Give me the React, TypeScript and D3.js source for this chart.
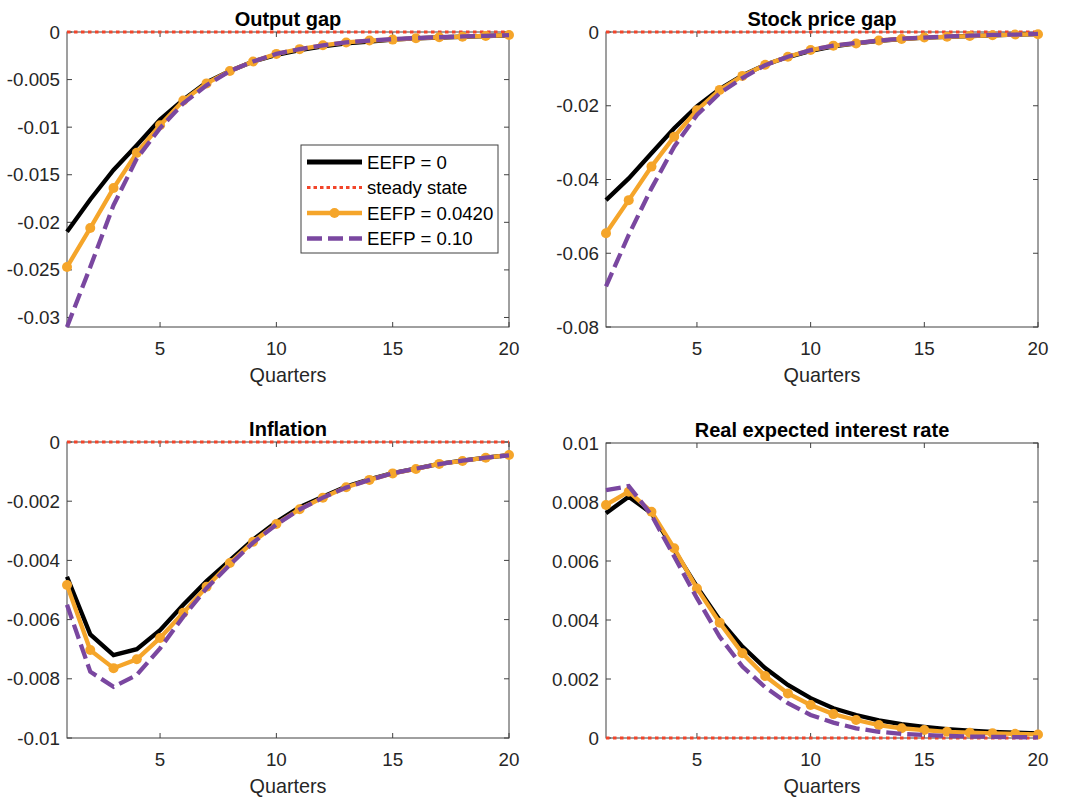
import { useEffect, useRef } from 'react';
import * as d3 from 'd3';

const quarters = [1, 2, 3, 4, 5, 6, 7, 8, 9, 10, 11, 12, 13, 14, 15, 16, 17, 18, 19, 20];
const xTicks = [5, 10, 15, 20];

const seriesNames = ['EEFP = 0', 'steady state', 'EEFP = 0.0420', 'EEFP = 0.10'];

// Output gap
const outputGap0 = [-0.021, -0.0176, -0.0145, -0.0119, -0.0092, -0.0071, -0.0053, -0.0041, -0.0031, -0.0024, -0.0019, -0.0015, -0.0012, -0.001, -0.0008, -0.00068, -0.00058, -0.0005, -0.00042, -0.00035];
const outputGap042 = [-0.0247, -0.0206, -0.0164, -0.0127, -0.0098, -0.0072, -0.0054, -0.0041, -0.0031, -0.0023, -0.0018, -0.0014, -0.0011, -0.0009, -0.0008, -0.00066, -0.00056, -0.00049, -0.00042, -0.00032];
const outputGap10 = [-0.031, -0.0247, -0.0182, -0.0133, -0.0101, -0.0075, -0.0056, -0.0041, -0.0031, -0.0023, -0.0018, -0.0014, -0.0011, -0.0009, -0.00075, -0.00064, -0.00055, -0.00047, -0.0004, -0.00033];

// Stock price gap
const stockGap0 = [-0.0456, -0.0397, -0.0329, -0.0261, -0.0202, -0.0155, -0.0118, -0.0089, -0.0068, -0.0051, -0.0039, -0.0031, -0.0024, -0.0019, -0.0015, -0.0013, -0.0011, -0.0009, -0.0007, -0.0006];
const stockGap042 = [-0.0546, -0.0456, -0.0365, -0.0284, -0.0212, -0.0157, -0.0119, -0.0089, -0.0067, -0.0049, -0.0037, -0.0031, -0.0023, -0.0019, -0.0015, -0.0013, -0.0011, -0.0009, -0.0007, -0.0006];
const stockGap10 = [-0.069, -0.055, -0.0424, -0.0311, -0.0225, -0.0166, -0.0125, -0.009, -0.0067, -0.0049, -0.0037, -0.003, -0.0023, -0.0018, -0.0015, -0.0012, -0.001, -0.0008, -0.0007, -0.0005];

// Inflation
const inflation0 = [-0.00455, -0.0065, -0.0072, -0.007, -0.00636, -0.0055, -0.0047, -0.004, -0.0033, -0.0027, -0.0022, -0.00185, -0.0015, -0.00126, -0.00105, -0.0009, -0.00074, -0.00063, -0.00053, -0.00044];
const inflation042 = [-0.00483, -0.00703, -0.00764, -0.00734, -0.00662, -0.00577, -0.00489, -0.00409, -0.00337, -0.00277, -0.00227, -0.00188, -0.00153, -0.00128, -0.00106, -0.00091, -0.00074, -0.00064, -0.00053, -0.00044];
const inflation10 = [-0.0055, -0.00776, -0.00827, -0.00787, -0.00697, -0.0059, -0.00494, -0.00415, -0.0034, -0.00279, -0.00228, -0.00188, -0.00154, -0.00128, -0.00106, -0.0009, -0.00075, -0.00063, -0.00053, -0.00045];

// Real expected interest rate
const realRate0 = [0.00762, 0.00818, 0.00762, 0.00637, 0.00513, 0.004, 0.0031, 0.00237, 0.0018, 0.00135, 0.00101, 0.00078, 0.0006, 0.00047, 0.00038, 0.0003, 0.00025, 0.00021, 0.00018, 0.00016];
const realRate042 = [0.0079, 0.00835, 0.00767, 0.00643, 0.00507, 0.00391, 0.00287, 0.0021, 0.00151, 0.00112, 0.00081, 0.00061, 0.00044, 0.00033, 0.00027, 0.00021, 0.00018, 0.00016, 0.00014, 0.00012];
const realRate10 = [0.0084, 0.00854, 0.00756, 0.00615, 0.00474, 0.00343, 0.00242, 0.00172, 0.00118, 0.00078, 0.00052, 0.00033, 0.00021, 0.00014, 0.0001, 0.00007, 0.00005, 0.00004, 0.00003, 0.00002];

const outputTicks = [-0.03, -0.025, -0.02, -0.015, -0.01, -0.005, 0];
const stockTicks = [-0.08, -0.06, -0.04, -0.02, 0];
const inflationTicks = [-0.01, -0.008, -0.006, -0.004, -0.002, 0];
const realRateTicks = [0, 0.002, 0.004, 0.006, 0.008, 0.01];

const BLACK = '#000000';
const RED = '#f2452a';
const ORANGE = '#f5a52a';
const PURPLE = '#7a47a0';
const AXIS = '#404040';
const FONT = '"Liberation Sans", Arial, Helvetica, sans-serif';

const panels = [
  { title: 'Output gap', left: 67, right: 509, top: 32, bottom: 327, yDomain: [-0.031, 0], yTicks: outputTicks, s0: outputGap0, s1: outputGap042, s2: outputGap10, legend: true },
  { title: 'Stock price gap', left: 606, right: 1038, top: 32, bottom: 327, yDomain: [-0.08, 0], yTicks: stockTicks, s0: stockGap0, s1: stockGap042, s2: stockGap10, legend: false },
  { title: 'Inflation', left: 67, right: 509, top: 442, bottom: 738, yDomain: [-0.01, 0], yTicks: inflationTicks, s0: inflation0, s1: inflation042, s2: inflation10, legend: false },
  { title: 'Real expected interest rate', left: 606, right: 1038, top: 443, bottom: 738, yDomain: [0, 0.01], yTicks: realRateTicks, s0: realRate0, s1: realRate042, s2: realRate10, legend: false },
];

const fmt = (d) => (d === 0 ? '0' : String(+d.toFixed(4)));

const Chart = () => {
  const ref = useRef(null);

  useEffect(() => {
    const svg = d3.select(ref.current);
    svg.selectAll('*').remove();

    panels.forEach((p) => {
      const x = d3.scaleLinear().domain([1, 20]).range([p.left, p.right]);
      const y = d3.scaleLinear().domain(p.yDomain).range([p.bottom, p.top]);
      const g = svg.append('g');

      g.append('rect')
        .attr('x', p.left)
        .attr('y', p.top)
        .attr('width', p.right - p.left)
        .attr('height', p.bottom - p.top)
        .attr('fill', '#fff')
        .attr('stroke', AXIS)
        .attr('stroke-width', 1);

      // ticks inward on all four sides
      xTicks.forEach((t) => {
        g.append('line').attr('x1', x(t)).attr('x2', x(t)).attr('y1', p.bottom).attr('y2', p.bottom - 5).attr('stroke', AXIS);
        g.append('line').attr('x1', x(t)).attr('x2', x(t)).attr('y1', p.top).attr('y2', p.top + 5).attr('stroke', AXIS);
        g.append('text')
          .attr('x', x(t))
          .attr('y', p.bottom + 28)
          .attr('text-anchor', 'middle')
          .attr('font-size', 18.8)
          .attr('fill', '#262626')
          .text(t);
      });
      p.yTicks.forEach((t) => {
        g.append('line').attr('x1', p.left).attr('x2', p.left + 5).attr('y1', y(t)).attr('y2', y(t)).attr('stroke', AXIS);
        g.append('line').attr('x1', p.right).attr('x2', p.right - 5).attr('y1', y(t)).attr('y2', y(t)).attr('stroke', AXIS);
        g.append('text')
          .attr('x', p.left - 7)
          .attr('y', y(t) + 6.5)
          .attr('text-anchor', 'end')
          .attr('font-size', 18.8)
          .attr('fill', '#262626')
          .text(fmt(t));
      });

      g.append('text')
        .attr('x', (p.left + p.right) / 2)
        .attr('y', p.top - 6)
        .attr('text-anchor', 'middle')
        .attr('font-size', 20)
        .attr('font-weight', 'bold')
        .attr('fill', '#000')
        .text(p.title);

      g.append('text')
        .attr('x', (p.left + p.right) / 2)
        .attr('y', p.bottom + 55)
        .attr('text-anchor', 'middle')
        .attr('font-size', 19.8)
        .attr('fill', '#262626')
        .text('Quarters');

      const line = d3.line().x((d, i) => x(quarters[i])).y((d) => y(d));

      g.append('path').datum(p.s0).attr('d', line).attr('fill', 'none').attr('stroke', BLACK).attr('stroke-width', 4.3);
      g.append('line')
        .attr('x1', x(1)).attr('x2', x(20)).attr('y1', y(0)).attr('y2', y(0))
        .attr('stroke', RED).attr('stroke-width', 3).attr('stroke-dasharray', '3.5,3.5');
      g.append('path').datum(p.s1).attr('d', line).attr('fill', 'none').attr('stroke', ORANGE).attr('stroke-width', 4.3);
      g.selectAll('circle.m')
        .data(p.s1)
        .join('circle')
        .attr('class', 'm')
        .attr('cx', (d, i) => x(quarters[i]))
        .attr('cy', (d) => y(d))
        .attr('r', 5)
        .attr('fill', ORANGE);
      g.append('path').datum(p.s2).attr('d', line).attr('fill', 'none').attr('stroke', PURPLE).attr('stroke-width', 4.3).attr('stroke-dasharray', '15,6');

      if (p.legend) {
        const lx = 301, ly = 145, lw = 197, lh = 108;
        const lg = g.append('g');
        lg.append('rect').attr('x', lx).attr('y', ly).attr('width', lw).attr('height', lh).attr('fill', '#fff').attr('stroke', AXIS);
        const styles = [
          { c: BLACK, dash: null, w: 4.8, marker: false },
          { c: RED, dash: '3.5,3', w: 3, marker: false },
          { c: ORANGE, dash: null, w: 4.3, marker: true },
          { c: PURPLE, dash: '15,6', w: 4.3, marker: false },
        ];
        seriesNames.forEach((name, i) => {
          const yy = ly + 17 + i * 25.5;
          const st = styles[i];
          lg.append('line')
            .attr('x1', lx + 6).attr('x2', lx + 61).attr('y1', yy).attr('y2', yy)
            .attr('stroke', st.c).attr('stroke-width', st.w)
            .attr('stroke-dasharray', st.dash);
          if (st.marker) lg.append('circle').attr('cx', lx + 33.5).attr('cy', yy).attr('r', 5).attr('fill', st.c);
          lg.append('text')
            .attr('x', lx + 66)
            .attr('y', yy + 6.5)
            .attr('font-size', 18.6)
            .attr('fill', '#000')
            .text(name);
        });
      }
    });
  }, []);

  return <svg ref={ref} width={1072} height={799} style={{ position: 'absolute', left: 0, top: 0, fontFamily: FONT, background: '#fff' }} />;
};

export default function App() {
  return (
    <div>
      <Chart />
    </div>
  );
}
